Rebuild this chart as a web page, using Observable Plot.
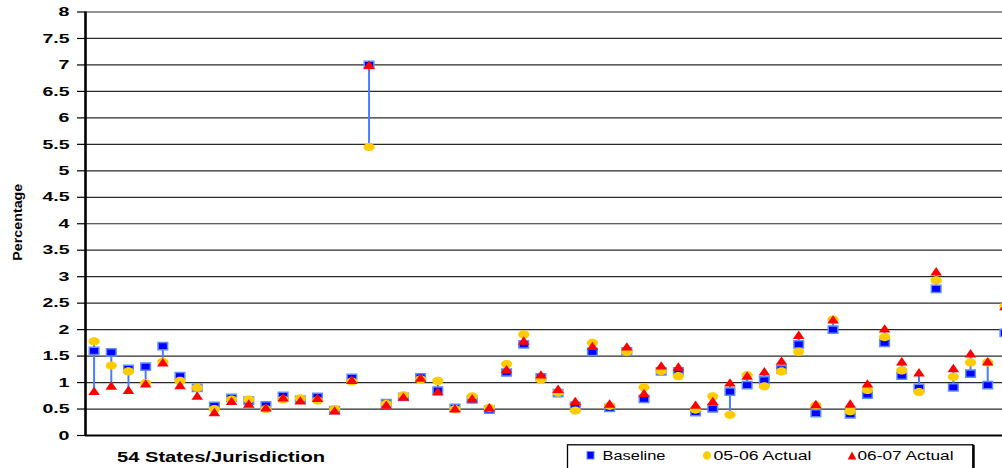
<!DOCTYPE html>
<html><head><meta charset="utf-8">
<script src="https://cdn.jsdelivr.net/npm/d3@7"></script>
<script src="https://cdn.jsdelivr.net/npm/@observablehq/plot@0.6"></script>
<style>
html,body{margin:0;padding:0;background:#fff;overflow:hidden;}
#wrap{position:relative;width:1002px;height:468px;overflow:hidden;font-family:"Liberation Sans",Arial,sans-serif;}
#wrap svg.overlay{position:absolute;left:0;top:0;pointer-events:none;}
</style></head><body><div id="wrap"></div>
<script>
// ---- data ----
const states = d3.range(1, 55);
const baseline = [1.60,1.57,1.26,1.30,1.69,1.12,0.90,0.56,0.71,0.66,0.57,0.75,0.68,0.73,0.48,1.09,7.00,0.61,0.73,1.10,0.85,0.52,0.68,0.49,1.19,1.72,1.10,0.80,0.56,1.58,0.52,1.59,0.69,1.21,1.21,0.44,0.51,0.83,0.95,1.04,1.25,1.72,0.42,2.00,0.40,0.77,1.75,1.13,0.90,2.77,0.91,1.17,0.95,1.94];
const actual0506 = [1.78,1.32,1.21,0.99,1.39,1.03,0.90,0.50,0.68,0.68,0.50,0.68,0.70,0.66,0.50,1.02,5.45,0.60,0.76,1.06,1.03,0.50,0.74,0.52,1.35,1.91,1.06,0.81,0.47,1.75,0.56,1.58,0.91,1.22,1.12,0.49,0.74,0.39,1.14,0.93,1.21,1.58,0.57,2.19,0.46,0.86,1.86,1.23,0.82,2.93,1.11,1.38,1.38,2.44];
const actual0607 = [0.84,0.94,0.86,0.98,1.38,0.95,0.75,0.44,0.65,0.60,0.53,0.72,0.66,0.71,0.47,1.05,7.00,0.58,0.73,1.09,0.83,0.51,0.70,0.53,1.25,1.79,1.15,0.88,0.65,1.69,0.60,1.68,0.80,1.32,1.30,0.58,0.65,1.00,1.13,1.21,1.41,1.90,0.59,2.19,0.60,0.98,2.02,1.40,1.19,3.10,1.27,1.55,1.40,2.44];
const yTicks = d3.range(0, 8.001, 0.5);
const seriesNames = ["Baseline", "05-06 Actual", "06-07 Actual"];
const xTitle = "54 States/Jurisdiction";
const yTitle = "Percentage";

const rows = states.map((s, i) => {
  const v = [baseline[i], actual0506[i], actual0607[i]];
  return {state: s, baseline: v[0], a1: v[1], a2: v[2], lo: Math.min(...v), hi: Math.max(...v)};
});

// ---- marker shapes (stretched like the original) ----
const squareSym = {draw(c){c.moveTo(-4.8,-3.6);c.lineTo(4.8,-3.6);c.lineTo(4.8,3.6);c.lineTo(-4.8,3.6);c.closePath();}};
const ellipseSym = {draw(c){const rx=5.6, ry=4.1, k=0.5523;
  c.moveTo(rx,0);c.bezierCurveTo(rx,ry*k,rx*k,ry,0,ry);c.bezierCurveTo(-rx*k,ry,-rx,ry*k,-rx,0);
  c.bezierCurveTo(-rx,-ry*k,-rx*k,-ry,0,-ry);c.bezierCurveTo(rx*k,-ry,rx,-ry*k,rx,0);c.closePath();}};
const triSym = {draw(c){c.moveTo(0,-4.4);c.lineTo(5.8,4.0);c.lineTo(-5.8,4.0);c.closePath();}};

const chart = Plot.plot({
  width: 1002, height: 468,
  marginLeft: 85, marginRight: 0, marginTop: 11.5, marginBottom: 33,
  style: {fontFamily: "Liberation Sans, Arial, sans-serif", background: "#fff", overflow: "hidden"},
  x: {type: "linear", domain: [0.5, 54.5], range: [85, 1013], axis: null},
  y: {domain: [0, 8]},
  marks: [
    Plot.gridY(yTicks, {stroke: "#2a2a2a", strokeOpacity: 1, strokeWidth: 1.2}),
    Plot.ruleX(rows, {x: "state", y1: "lo", y2: "hi", stroke: "#4a7cff", strokeWidth: 2}),
    Plot.dot(rows, {x: "state", y: "baseline", symbol: squareSym, fill: "#0000ff", stroke: "#5c8dff", strokeWidth: 1.5}),
    Plot.dot(rows, {x: "state", y: "a1", symbol: ellipseSym, fill: "#ffcc00", stroke: "none"}),
    Plot.dot(rows, {x: "state", y: "a2", symbol: triSym, fill: "#ff0000", stroke: "none"}),
    Plot.axisY(yTicks, {tickSize: 8, tickPadding: 8, tickFormat: d => String(d), fontSize: 13, fontWeight: "bold", label: null, strokeWidth: 1.2}),
    Plot.ruleX([0.5], {stroke: "#000", strokeWidth: 2.6}),
    Plot.ruleY([0], {stroke: "#000", strokeWidth: 2.2}),
    Plot.text([yTitle], {text: d => d, frameAnchor: "left", textAnchor: "start", dx: -67.5, dy: 37, rotate: -90, fontSize: 13.5, fontWeight: "bold", fill: "#000"})
  ]
});
const wrap = document.getElementById("wrap");
wrap.appendChild(chart);

// stretch text horizontally like the original picture
chart.querySelectorAll('g[aria-label="y-axis tick label"] text').forEach(t => {
  const w = t.getComputedTextLength();
  t.setAttribute("textLength", (w * 1.5).toFixed(1));
  t.setAttribute("lengthAdjust", "spacingAndGlyphs");
});
chart.querySelectorAll('g[aria-label="text"] text').forEach(t => {
  if (t.textContent === yTitle) { t.setAttribute("textLength", "77"); t.setAttribute("lengthAdjust", "spacingAndGlyphs"); }
});

// ---- caption and legend ----
const ov = d3.select(wrap).append("svg").attr("class", "overlay")
  .attr("width", 1002).attr("height", 468)
  .style("font-family", "Liberation Sans, Arial, sans-serif");
ov.append("text").attr("x", 117).attr("y", 461.5).attr("font-size", 14).attr("font-weight", "bold")
  .attr("textLength", 208).attr("lengthAdjust", "spacingAndGlyphs").text(xTitle);
ov.append("rect").attr("x", 567.5).attr("y", 444.8).attr("width", 405.5).attr("height", 40)
  .attr("fill", "#fff").attr("stroke", "#000").attr("stroke-width", 1.3);
ov.append("line").attr("x1", 973.5).attr("x2", 973.5).attr("y1", 445).attr("y2", 468).attr("stroke", "#000").attr("stroke-width", 2.4);
const leg = [
  {name: seriesNames[0], mx: 590.5, tx: 602.5, tl: 63, sym: "sq"},
  {name: seriesNames[1], mx: 707, tx: 713.5, tl: 98, sym: "ci"},
  {name: seriesNames[2], mx: 852, tx: 857.5, tl: 96, sym: "tr"}
];
leg.forEach(d => {
  if (d.sym === "sq") ov.append("rect").attr("x", d.mx - 3.5).attr("y", 451.5).attr("width", 7).attr("height", 7.5).attr("fill", "#0000ff").attr("stroke", "#5c8dff").attr("stroke-width", 1);
  if (d.sym === "ci") ov.append("ellipse").attr("cx", d.mx).attr("cy", 455.5).attr("rx", 4).attr("ry", 4.3).attr("fill", "#ffcc00");
  if (d.sym === "tr") ov.append("path").attr("d", `M${d.mx},451.5L${d.mx + 4.3},459.5L${d.mx - 4.3},459.5Z`).attr("fill", "#ff0000");
  ov.append("text").attr("x", d.tx).attr("y", 460.3).attr("font-size", 12.5).attr("fill", "#000")
    .attr("textLength", d.tl).attr("lengthAdjust", "spacingAndGlyphs").text(d.name);
});
</script></body></html>
